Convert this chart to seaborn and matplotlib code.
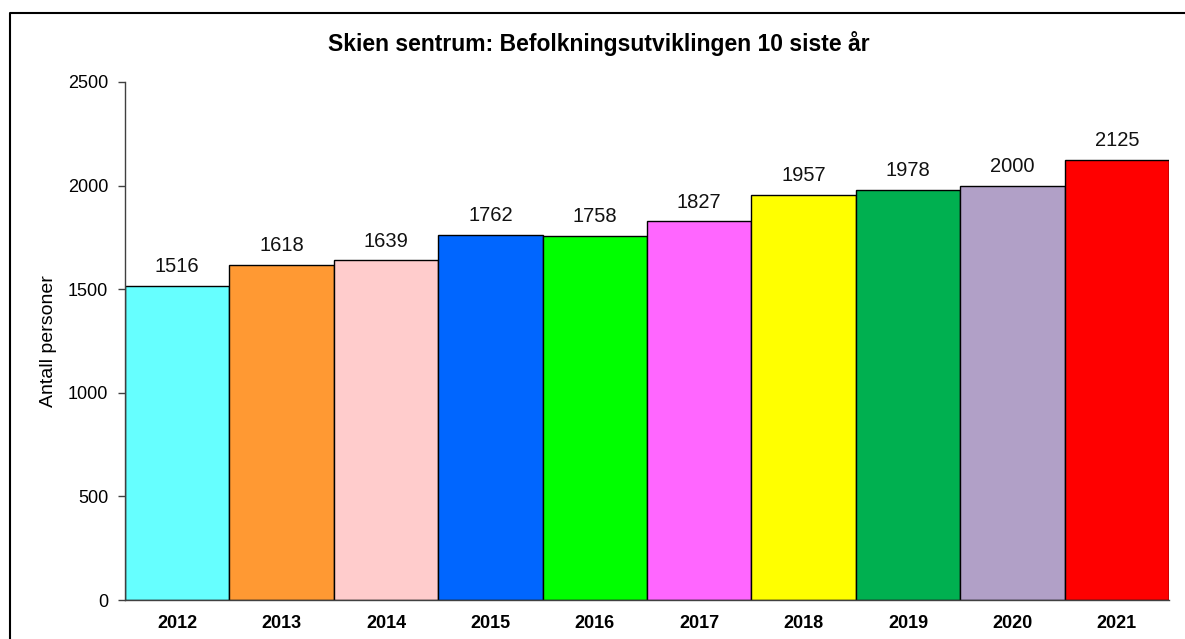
import matplotlib
matplotlib.use("Agg")
import matplotlib.pyplot as plt
import seaborn as sns
import pandas as pd
from matplotlib.lines import Line2D

years = ["2012", "2013", "2014", "2015", "2016", "2017", "2018", "2019", "2020", "2021"]
population = [1516, 1618, 1639, 1762, 1758, 1827, 1957, 1978, 2000, 2125]
bar_colors = ["#66FFFF", "#FF9933", "#FFCCCC", "#0066FF", "#00FF00",
              "#FF66FF", "#FFFF00", "#00B050", "#B1A0C7", "#FF0000"]
y_ticks = [0, 500, 1000, 1500, 2000, 2500]

sns.set_style("white")
plt.rcParams["font.family"] = ["Liberation Sans", "DejaVu Sans"]
plt.rcParams["text.color"] = "black"
plt.rcParams["axes.labelcolor"] = "black"
plt.rcParams["xtick.color"] = "black"
plt.rcParams["ytick.color"] = "black"

df = pd.DataFrame({"year": years, "people": population})

fig = plt.figure(figsize=(11.85, 6.39), dpi=100)
ax = fig.add_axes([0.1055, 0.061, 0.881, 0.8107])

sns.barplot(data=df, x="year", y="people", hue="year", palette=bar_colors,
            width=1.0, edgecolor="black", linewidth=1.0, legend=False,
            dodge=False, saturation=1, ax=ax)

for cont in ax.containers:
    ax.bar_label(cont, fmt="%d", padding=7, fontsize=14.5, color="#111111")

ax.set_ylim(0, 2500)
ax.set_yticks(y_ticks)
ax.set_xlim(-0.5, len(years) - 0.5)
ax.set_xlabel("")
ax.set_ylabel("Antall personer", fontsize=14, labelpad=8)

ax.tick_params(axis="y", direction="out", length=5, width=1, color="#404040",
               labelcolor="black", labelsize=13, pad=7, left=True)
ax.tick_params(axis="x", length=0, labelsize=13, pad=11, labelcolor="black")
for lbl in ax.get_xticklabels():
    lbl.set_fontweight("bold")

for side in ("top", "right"):
    ax.spines[side].set_visible(False)
for side in ("left", "bottom"):
    ax.spines[side].set_color("#404040")
    ax.spines[side].set_linewidth(1.0)

fig.text(599 / 1185, 1 - 43 / 639, "Skien sentrum: Befolkningsutviklingen 10 siste år",
         ha="center", va="center", fontsize=16.5, fontweight="bold", color="black")

# outer chart frame
fig.add_artist(Line2D([9.5 / 1185, 9.5 / 1185, 1.0], [0.0, 1 - 12.5 / 639, 1 - 12.5 / 639],
                      transform=fig.transFigure, color="black", linewidth=1.5))

fig.savefig("out.png", dpi=100)
